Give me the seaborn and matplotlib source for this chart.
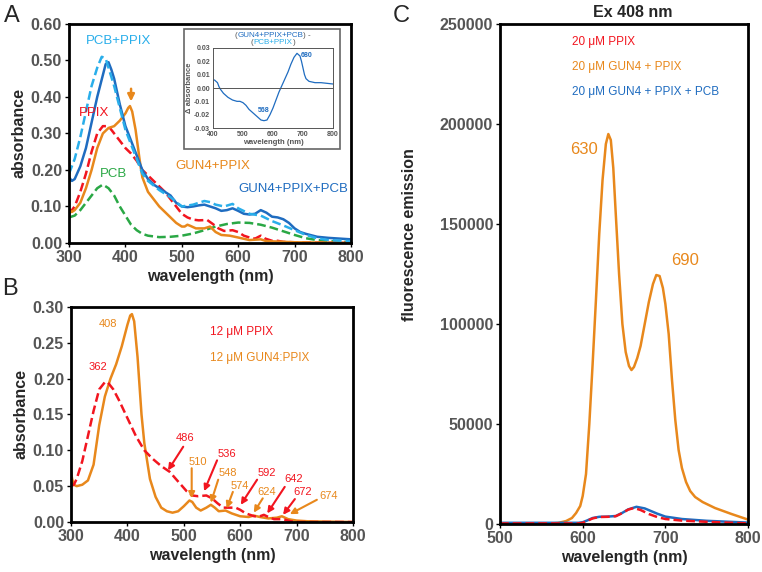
import numpy as np
import pandas as pd
import matplotlib
matplotlib.use("Agg")
import matplotlib.pyplot as plt
import seaborn as sns
from matplotlib.patches import Rectangle
from matplotlib.ticker import FormatStrFormatter
from matplotlib.offsetbox import TextArea, HPacker, VPacker, AnchoredOffsetbox

# ---- colours ----
BLUE = "#1f6cc0"
LBLUE = "#29aeea"
RED = "#f2151f"
ORANGE = "#e8881c"
GREEN = "#2aa845"
GRAY = "#555555"

# ---- panel A: absorbance spectra ----
a_blue_x = [300, 305, 310, 320, 330, 340, 350, 360, 365, 370, 375, 380, 390, 400, 410, 420, 430, 440, 450, 460, 470, 480, 490, 500, 510, 520, 530, 540, 550, 560, 570, 580, 590, 600, 610, 620, 630, 640, 650, 660, 670, 680, 690, 700, 710, 720, 740, 760, 800]
a_blue_y = [0.18, 0.17, 0.175, 0.21, 0.26, 0.33, 0.40, 0.46, 0.49, 0.495, 0.475, 0.45, 0.38, 0.32, 0.28, 0.24, 0.20, 0.175, 0.16, 0.15, 0.14, 0.13, 0.11, 0.10, 0.098, 0.10, 0.103, 0.105, 0.10, 0.095, 0.088, 0.09, 0.095, 0.088, 0.08, 0.078, 0.08, 0.09, 0.083, 0.072, 0.07, 0.065, 0.055, 0.04, 0.03, 0.025, 0.017, 0.014, 0.01]

a_lblue_x = [300, 310, 320, 330, 340, 350, 358, 365, 370, 380, 390, 400, 410, 420, 430, 440, 460, 480, 500, 520, 540, 550, 560, 575, 590, 600, 620, 640, 660, 680, 700, 720, 740, 760, 800]
a_lblue_y = [0.19, 0.23, 0.29, 0.36, 0.43, 0.48, 0.51, 0.505, 0.48, 0.43, 0.37, 0.31, 0.27, 0.23, 0.19, 0.17, 0.145, 0.125, 0.10, 0.105, 0.115, 0.112, 0.105, 0.10, 0.107, 0.095, 0.08, 0.075, 0.06, 0.048, 0.035, 0.022, 0.013, 0.008, 0.005]

a_red_x = [300, 310, 320, 330, 340, 350, 360, 370, 380, 390, 400, 410, 420, 430, 440, 450, 460, 470, 480, 490, 500, 510, 520, 530, 545, 555, 565, 575, 590, 600, 610, 620, 630, 640, 648, 660, 670, 680, 700, 800]
a_red_y = [0.08, 0.10, 0.14, 0.19, 0.25, 0.30, 0.32, 0.32, 0.30, 0.28, 0.26, 0.245, 0.225, 0.20, 0.185, 0.17, 0.155, 0.14, 0.12, 0.10, 0.08, 0.07, 0.064, 0.062, 0.063, 0.052, 0.04, 0.033, 0.035, 0.03, 0.02, 0.015, 0.012, 0.02, 0.012, 0.006, 0.006, 0.003, 0.002, 0.0]

a_orange_x = [300, 305, 310, 320, 330, 340, 350, 360, 370, 380, 390, 400, 405, 408, 412, 418, 425, 430, 440, 450, 460, 470, 480, 490, 500, 505, 510, 515, 525, 540, 550, 560, 570, 585, 600, 620, 640, 650, 670, 700, 800]
a_orange_y = [0.09, 0.085, 0.09, 0.11, 0.15, 0.20, 0.26, 0.30, 0.315, 0.32, 0.335, 0.355, 0.37, 0.375, 0.36, 0.31, 0.23, 0.18, 0.14, 0.12, 0.10, 0.085, 0.07, 0.055, 0.045, 0.045, 0.05, 0.047, 0.04, 0.04, 0.045, 0.03, 0.022, 0.02, 0.015, 0.008, 0.01, 0.005, 0.004, 0.002, 0.0]

a_green_x = [300, 310, 320, 330, 340, 350, 360, 370, 380, 390, 400, 410, 420, 430, 440, 460, 480, 500, 520, 540, 560, 580, 600, 620, 640, 660, 680, 700, 720, 740, 760, 800]
a_green_y = [0.07, 0.075, 0.09, 0.11, 0.13, 0.15, 0.16, 0.15, 0.13, 0.10, 0.075, 0.05, 0.035, 0.025, 0.02, 0.016, 0.017, 0.02, 0.026, 0.035, 0.045, 0.052, 0.056, 0.055, 0.05, 0.042, 0.032, 0.022, 0.013, 0.008, 0.005, 0.002]

# inset: difference spectrum
d_x = [400, 405, 410, 415, 420, 425, 435, 450, 465, 480, 490, 500, 510, 520, 535, 550, 560, 570, 580, 590, 600, 610, 620, 630, 640, 650, 660, 670, 680, 690, 695, 700, 705, 710, 720, 740, 760, 800]
d_y = [0.006, 0.006, 0.005, 0.004, 0.001, -0.001, -0.004, -0.007, -0.009, -0.010, -0.010, -0.011, -0.013, -0.016, -0.019, -0.022, -0.024, -0.0245, -0.024, -0.020, -0.015, -0.009, -0.003, 0.002, 0.007, 0.012, 0.018, 0.023, 0.026, 0.024, 0.020, 0.015, 0.010, 0.007, 0.005, 0.004, 0.004, 0.003]

# ---- panel B ----
b_red_x = [300, 305, 310, 320, 330, 340, 350, 360, 365, 375, 385, 400, 415, 430, 445, 460, 475, 486, 495, 505, 515, 525, 540, 550, 560, 570, 580, 592, 600, 610, 625, 635, 642, 650, 660, 672, 680, 690, 700, 800]
b_red_y = [0.05, 0.052, 0.06, 0.085, 0.12, 0.155, 0.185, 0.195, 0.195, 0.185, 0.17, 0.145, 0.12, 0.10, 0.088, 0.078, 0.07, 0.06, 0.052, 0.043, 0.037, 0.036, 0.037, 0.033, 0.026, 0.02, 0.02, 0.02, 0.017, 0.012, 0.008, 0.008, 0.01, 0.007, 0.004, 0.004, 0.003, 0.001, 0.0, 0.0]

b_orange_x = [300, 302, 305, 310, 320, 330, 340, 350, 360, 370, 380, 390, 400, 405, 408, 412, 418, 425, 430, 440, 450, 460, 470, 480, 490, 500, 510, 515, 522, 530, 540, 548, 555, 562, 574, 585, 600, 615, 624, 635, 650, 665, 674, 685, 700, 720, 800]
b_orange_y = [0.07, 0.06, 0.052, 0.05, 0.052, 0.058, 0.08, 0.135, 0.175, 0.20, 0.22, 0.245, 0.275, 0.288, 0.29, 0.28, 0.23, 0.15, 0.11, 0.06, 0.035, 0.02, 0.015, 0.013, 0.015, 0.022, 0.03, 0.028, 0.02, 0.016, 0.02, 0.024, 0.02, 0.015, 0.016, 0.012, 0.008, 0.007, 0.009, 0.007, 0.005, 0.006, 0.008, 0.004, 0.002, 0.001, 0.0]

# peak labels: (text, colour, text x, text y, tail x, tail y, tip x, tip y)
b_peaks = [
    ("486", RED, 502, 0.117, 499, 0.105, 472, 0.072),
    ("510", ORANGE, 525, 0.084, 514, 0.075, 514, 0.033),
    ("536", RED, 576, 0.095, 559, 0.086, 536, 0.043),
    ("548", ORANGE, 579, 0.068, 561, 0.059, 548, 0.027),
    ("574", ORANGE, 600, 0.050, 587, 0.042, 576, 0.019),
    ("592", RED, 647, 0.068, 630, 0.059, 601, 0.024),
    ("624", ORANGE, 647, 0.042, 640, 0.033, 624, 0.013),
    ("642", RED, 695, 0.060, 679, 0.049, 648, 0.012),
    ("672", RED, 711, 0.042, 697, 0.032, 676, 0.010),
    ("674", ORANGE, 756, 0.036, 736, 0.031, 688, 0.011),
]

# ---- panel C: fluorescence emission ----
c_orange_x = [500, 550, 570, 580, 587, 592, 597, 600, 604, 608, 612, 616, 620, 624, 628, 631, 634, 637, 640, 644, 648, 652, 656, 659, 662, 666, 670, 675, 680, 685, 689, 693, 697, 700, 704, 708, 712, 716, 720, 725, 730, 736, 745, 760, 780, 800]
c_orange_y = [0, 0, 500, 1500, 3000, 5500, 9000, 14000, 25000, 50000, 80000, 112000, 145000, 172000, 190000, 195000, 192000, 178000, 155000, 125000, 100000, 86000, 79000, 77000, 78500, 83000, 89000, 100000, 111000, 120000, 124500, 124000, 118000, 110000, 95000, 72000, 52000, 37000, 28000, 21000, 16500, 13500, 11000, 8000, 5000, 2200]

c_red_x = [500, 595, 600, 605, 612, 620, 630, 640, 648, 655, 662, 670, 680, 690, 700, 720, 750, 800]
c_red_y = [300, 300, 600, 1500, 2800, 3500, 3600, 3900, 5500, 7200, 8000, 7000, 5000, 3500, 2500, 1700, 1100, 300]

c_blue_x = [500, 595, 600, 605, 612, 620, 630, 640, 648, 655, 665, 675, 690, 700, 720, 750, 800]
c_blue_y = [600, 600, 900, 1700, 3000, 3600, 3700, 4000, 5600, 7300, 8600, 7800, 5200, 3700, 2500, 1600, 700]

# ---- style ----
sns.set_theme(style="ticks")
plt.rcParams["font.family"] = ["Liberation Sans", "DejaVu Sans"]
plt.rcParams["font.weight"] = "bold"
plt.rcParams["axes.labelweight"] = "bold"
plt.rcParams["axes.titleweight"] = "bold"
plt.rcParams["axes.linewidth"] = 2.0
plt.rcParams["axes.edgecolor"] = "black"

fig = plt.figure(figsize=(7.62, 5.72), dpi=100)


def style_axes(ax, xlim, ylim, size=11.5):
    ax.set_xlim(*xlim)
    ax.set_ylim(*ylim)
    for s in ax.spines.values():
        s.set_visible(True)
        s.set_linewidth(2.0)
        s.set_color("black")
    ax.tick_params(labelsize=size, labelcolor=GRAY, length=3, width=1, color="black", pad=2)
    for lbl in ax.get_xticklabels() + ax.get_yticklabels():
        lbl.set_fontweight("bold")


def line(ax, x, y, color, dashed=False, lw=1.8):
    sns.lineplot(x=x, y=y, ax=ax, color=color, lw=lw,
                 linestyle=(0, (3.5, 1.6)) if dashed else "-", sort=False)


# ===== panel A =====
axA = fig.add_axes([0.0906, 0.5752, 0.370, 0.383])
line(axA, a_green_x, a_green_y, GREEN, dashed=True)
line(axA, a_red_x, a_red_y, RED, dashed=True)
line(axA, a_orange_x, a_orange_y, ORANGE)
line(axA, a_blue_x, a_blue_y, BLUE)
line(axA, a_lblue_x, a_lblue_y, LBLUE, dashed=True)
axA.set_xticks([300, 400, 500, 600, 700, 800])
axA.set_yticks(np.arange(0, 0.61, 0.1))
axA.yaxis.set_major_formatter(FormatStrFormatter("%.2f"))
style_axes(axA, (300, 800), (0, 0.6))
axA.set_xlabel("wavelength (nm)", fontsize=11.5, labelpad=3)
axA.set_ylabel("absorbance", fontsize=11.5, labelpad=3)
axA.annotate("", xy=(410, 0.38), xytext=(410, 0.43),
             arrowprops=dict(arrowstyle="-|>", color=ORANGE, lw=1.8, mutation_scale=10))
for txt, col, x, y in [("PCB+PPIX", LBLUE, 387, 0.553), ("PPIX", RED, 345, 0.357),
                       ("PCB", GREEN, 378, 0.19), ("GUN4+PPIX", ORANGE, 555, 0.21),
                       ("GUN4+PPIX+PCB", BLUE, 697, 0.148)]:
    axA.text(x, y, txt, color=col, fontsize=9.5, fontweight="normal", ha="center", va="center")

# inset box
fig.add_artist(Rectangle((0.2415, 0.7395), 0.2047, 0.2098, transform=fig.transFigure,
                         facecolor="white", edgecolor="#666666", lw=1.2, zorder=4))
axI = fig.add_axes([0.2795, 0.7762, 0.1575, 0.1399], zorder=5)
line(axI, d_x, d_y, BLUE, lw=0.9)
axI.axhline(0, color="#555555", lw=0.7)
axI.set_xlim(400, 800)
axI.set_ylim(-0.03, 0.03)
axI.set_xticks([400, 500, 600, 700, 800])
axI.set_yticks([-0.03, -0.02, -0.01, 0, 0.01, 0.02, 0.03])
axI.yaxis.set_major_formatter(FormatStrFormatter("%.2f"))
for s in axI.spines.values():
    s.set_linewidth(0.7)
    s.set_color("#555555")
axI.tick_params(labelsize=5, labelcolor=GRAY, length=0, pad=2)
axI.set_xlabel("wavelength (nm)", fontsize=5.5, color=GRAY, labelpad=1)
axI.set_ylabel("Δ absorbance", fontsize=5.5, color=GRAY, labelpad=1)
axI.text(570, -0.017, "568", color=BLUE, fontsize=5, ha="center", va="center")
axI.text(712, 0.024, "680", color=BLUE, fontsize=5, ha="center", va="center")
tp = dict(size=5.8, weight="normal")
l1 = HPacker(children=[TextArea("(", textprops=dict(color=GRAY, **tp)),
                       TextArea("GUN4+PPIX+PCB", textprops=dict(color=BLUE, **tp)),
                       TextArea(") -", textprops=dict(color=GRAY, **tp))], pad=0, sep=0)
l2 = HPacker(children=[TextArea("(", textprops=dict(color=GRAY, **tp)),
                       TextArea("PCB+PPIX", textprops=dict(color=LBLUE, **tp)),
                       TextArea(")", textprops=dict(color=GRAY, **tp))], pad=0, sep=0)
title_box = AnchoredOffsetbox(loc="lower center", child=VPacker(children=[l1, l2], align="center", pad=0, sep=0),
                              bbox_to_anchor=(0.5, 1.0), bbox_transform=axI.transAxes,
                              frameon=False, borderpad=0.1, pad=0)
axI.add_artist(title_box)

# ===== panel B =====
axB = fig.add_axes([0.0932, 0.0874, 0.370, 0.376])
line(axB, b_orange_x, b_orange_y, ORANGE)
line(axB, b_red_x, b_red_y, RED, dashed=True)
axB.set_xticks([300, 400, 500, 600, 700, 800])
axB.set_yticks(np.arange(0, 0.31, 0.05))
axB.yaxis.set_major_formatter(FormatStrFormatter("%.2f"))
style_axes(axB, (300, 800), (0, 0.3))
axB.set_xlabel("wavelength (nm)", fontsize=11.5, labelpad=3)
axB.set_ylabel("absorbance", fontsize=11.5, labelpad=3)
axB.text(366, 0.276, "408", color=ORANGE, fontsize=8, fontweight="normal", ha="center", va="center")
axB.text(348, 0.216, "362", color=RED, fontsize=8, fontweight="normal", ha="center", va="center")
axB.text(546, 0.265, "12 μM PPIX", color=RED, fontsize=8.5, fontweight="normal", va="center")
axB.text(546, 0.229, "12 μM GUN4:PPIX", color=ORANGE, fontsize=8.5, fontweight="normal", va="center")
for txt, col, tx, ty, sx, sy, ex, ey in b_peaks:
    axB.text(tx, ty, txt, color=col, fontsize=8, fontweight="normal", ha="center", va="center")
    axB.annotate("", xy=(ex, ey), xytext=(sx, sy),
                 arrowprops=dict(arrowstyle="-|>", color=col, lw=1.5, mutation_scale=9,
                                 shrinkA=0, shrinkB=0))

# ===== panel C =====
axC = fig.add_axes([0.6562, 0.0839, 0.3255, 0.8741])
line(axC, c_orange_x, c_orange_y, ORANGE)
line(axC, c_blue_x, c_blue_y, BLUE)
line(axC, c_red_x, c_red_y, RED, dashed=True)
axC.set_xticks([500, 600, 700, 800])
axC.set_yticks(np.arange(0, 250001, 50000))
style_axes(axC, (500, 800), (0, 250000))
axC.set_xlabel("wavelength (nm)", fontsize=11.5, labelpad=3)
axC.set_ylabel("fluorescence emission", fontsize=11.5)
axC.yaxis.set_label_coords(-0.335, 0.578)
axC.set_title("Ex 408 nm", fontsize=11.5, fontweight="bold", pad=5, x=0.535)
axC.text(587, 241000, "20 μM PPIX", color=RED, fontsize=8.5, fontweight="normal", va="center")
axC.text(587, 228500, "20 μM GUN4 + PPIX", color=ORANGE, fontsize=8.5, fontweight="normal", va="center")
axC.text(587, 216000, "20 μM GUN4 + PPIX + PCB", color=BLUE, fontsize=8.5, fontweight="normal", va="center")
axC.text(601, 187500, "630", color=ORANGE, fontsize=12, fontweight="normal", ha="center", va="center")
axC.text(724, 131600, "690", color=ORANGE, fontsize=12, fontweight="normal", ha="center", va="center")

# panel letters
fig.text(0.005, 0.972, "A", fontsize=17, fontweight="normal", va="center")
fig.text(0.003, 0.495, "B", fontsize=17, fontweight="normal", va="center")
fig.text(0.516, 0.972, "C", fontsize=17, fontweight="normal", va="center")

fig.savefig("out.png", dpi=100)
